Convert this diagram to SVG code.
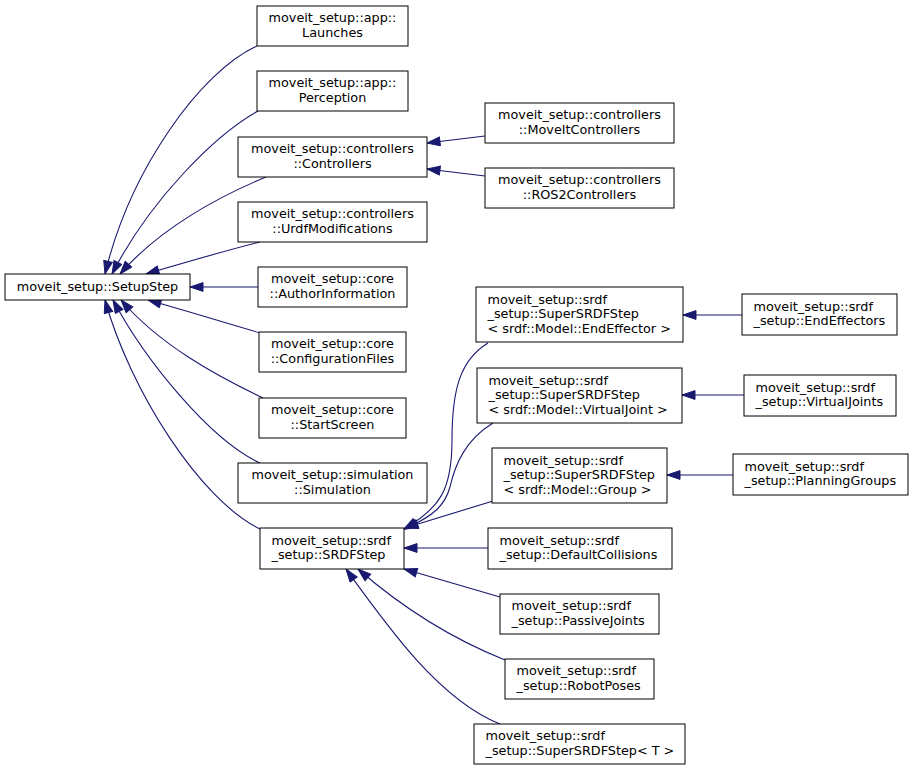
<svg xmlns="http://www.w3.org/2000/svg" width="913" height="771" viewBox="0 0 913 771">
<style>
.box{fill:#ffffff;stroke:#000000;stroke-width:1}
.t{font-family:"DejaVu Sans",sans-serif;font-size:12.8px;fill:#000000}
.c{text-anchor:middle}
.l{text-anchor:start}
.e{fill:none;stroke:#191970;stroke-width:1.1}
</style>
<defs>
<marker id="arr" markerUnits="userSpaceOnUse" markerWidth="16" markerHeight="12" refX="14" refY="5" orient="auto">
<path d="M1,0.6 L14,5 L1,9.4 z" fill="#191970" stroke="#191970" stroke-width="1"/>
</marker>
</defs>
<rect x="0" y="0" width="913" height="771" fill="#ffffff"/>
<g id="edges">
<path class="e" marker-end="url(#arr)" d="M257,46 C200,72 130,170 105,274"/>
<path class="e" marker-end="url(#arr)" d="M258,111 C215,135 150,200 112,274"/>
<path class="e" marker-end="url(#arr)" d="M266,177 C220,196 160,228 120,274"/>
<path class="e" marker-end="url(#arr)" d="M260,242 C220,252 180,264 146,274"/>
<path class="e" marker-end="url(#arr)" d="M258,287 L190,287"/>
<path class="e" marker-end="url(#arr)" d="M260,333 C230,324 180,309 148,300"/>
<path class="e" marker-end="url(#arr)" d="M263,398 C215,375 160,345 121,300"/>
<path class="e" marker-end="url(#arr)" d="M260,463 C210,440 145,360 113,300"/>
<path class="e" marker-end="url(#arr)" d="M260,529 C200,500 130,390 105,300"/>
<path class="e" marker-end="url(#arr)" d="M485,136 L427,143"/>
<path class="e" marker-end="url(#arr)" d="M485,176 L427,169"/>
<path class="e" marker-end="url(#arr)" d="M488,343 C460,360 452,390 452,440 C452,490 440,508 404,529"/>
<path class="e" marker-end="url(#arr)" d="M493,423 C465,440 455,465 450,487 C445,505 435,515 405,529"/>
<path class="e" marker-end="url(#arr)" d="M493,501 L405,528"/>
<path class="e" marker-end="url(#arr)" d="M488,548 L404,548"/>
<path class="e" marker-end="url(#arr)" d="M500,597 L404,569"/>
<path class="e" marker-end="url(#arr)" d="M505,660 C455,640 405,610 358,569"/>
<path class="e" marker-end="url(#arr)" d="M500,724 C440,700 390,630 346,569"/>
<path class="e" marker-end="url(#arr)" d="M742,315 L683,315"/>
<path class="e" marker-end="url(#arr)" d="M744,395 L682,395"/>
<path class="e" marker-end="url(#arr)" d="M733,475 L667,475"/>
</g>
<g id="n_setupstep"><rect class="box" x="5" y="274" width="185" height="26"/><text class="t c" x="97.5" y="290.5">moveit_setup::SetupStep</text></g>
<g id="n_launches"><rect class="box" x="257" y="6" width="151" height="40"/><text class="t c" x="332.5" y="22.3">moveit_setup::app::</text><text class="t c" x="332.5" y="36.8">Launches</text></g>
<g id="n_perception"><rect class="box" x="257" y="71" width="151" height="40"/><text class="t c" x="332.5" y="87.3">moveit_setup::app::</text><text class="t c" x="332.5" y="101.8">Perception</text></g>
<g id="n_controllers"><rect class="box" x="238" y="137" width="189" height="40"/><text class="t c" x="332.5" y="153.3">moveit_setup::controllers</text><text class="t c" x="332.5" y="167.8">::Controllers</text></g>
<g id="n_urdf"><rect class="box" x="238" y="202" width="189" height="40"/><text class="t c" x="332.5" y="218.3">moveit_setup::controllers</text><text class="t c" x="332.5" y="232.8">::UrdfModifications</text></g>
<g id="n_author"><rect class="box" x="258" y="267" width="149" height="40"/><text class="t c" x="332.5" y="283.3">moveit_setup::core</text><text class="t c" x="332.5" y="297.8">::AuthorInformation</text></g>
<g id="n_config"><rect class="box" x="259" y="332" width="147" height="40"/><text class="t c" x="332.5" y="348.3">moveit_setup::core</text><text class="t c" x="332.5" y="362.8">::ConfigurationFiles</text></g>
<g id="n_start"><rect class="box" x="259" y="398" width="147" height="40"/><text class="t c" x="332.5" y="414.3">moveit_setup::core</text><text class="t c" x="332.5" y="428.8">::StartScreen</text></g>
<g id="n_sim"><rect class="box" x="238" y="463" width="189" height="40"/><text class="t c" x="332.5" y="479.3">moveit_setup::simulation</text><text class="t c" x="332.5" y="493.8">::Simulation</text></g>
<g id="n_srdfstep"><rect class="box" x="260" y="528" width="144" height="41"/><text class="t l" x="271.5" y="544.8">moveit_setup::srdf</text><text class="t l" x="271.5" y="559.3">_setup::SRDFStep</text></g>
<g id="n_moveitctrl"><rect class="box" x="485" y="103" width="189" height="40"/><text class="t c" x="579.5" y="119.3">moveit_setup::controllers</text><text class="t c" x="579.5" y="133.8">::MoveItControllers</text></g>
<g id="n_ros2"><rect class="box" x="485" y="168" width="189" height="40"/><text class="t c" x="579.5" y="184.3">moveit_setup::controllers</text><text class="t c" x="579.5" y="198.8">::ROS2Controllers</text></g>
<g id="n_super_ee"><rect class="box" x="476" y="287" width="207" height="55"/><text class="t l" x="487.5" y="303.5">moveit_setup::srdf</text><text class="t l" x="487.5" y="318">_setup::SuperSRDFStep</text><text class="t l" x="487.5" y="332.5">&lt; srdf::Model::EndEffector &gt;</text></g>
<g id="n_super_vj"><rect class="box" x="477" y="368" width="205" height="55"/><text class="t l" x="488.5" y="384.5">moveit_setup::srdf</text><text class="t l" x="488.5" y="399">_setup::SuperSRDFStep</text><text class="t l" x="488.5" y="413.5">&lt; srdf::Model::VirtualJoint &gt;</text></g>
<g id="n_super_grp"><rect class="box" x="492" y="448" width="175" height="55"/><text class="t l" x="503.5" y="464.5">moveit_setup::srdf</text><text class="t l" x="503.5" y="479">_setup::SuperSRDFStep</text><text class="t l" x="503.5" y="493.5">&lt; srdf::Model::Group &gt;</text></g>
<g id="n_defcoll"><rect class="box" x="488" y="528" width="184" height="41"/><text class="t l" x="499.5" y="544.8">moveit_setup::srdf</text><text class="t l" x="499.5" y="559.3">_setup::DefaultCollisions</text></g>
<g id="n_passive"><rect class="box" x="500" y="594" width="159" height="40"/><text class="t l" x="511.5" y="610.3">moveit_setup::srdf</text><text class="t l" x="511.5" y="624.8">_setup::PassiveJoints</text></g>
<g id="n_robotposes"><rect class="box" x="505" y="659" width="149" height="40"/><text class="t l" x="516.5" y="675.3">moveit_setup::srdf</text><text class="t l" x="516.5" y="689.8">_setup::RobotPoses</text></g>
<g id="n_super_t"><rect class="box" x="474" y="724" width="211" height="40"/><text class="t l" x="485.5" y="740.3">moveit_setup::srdf</text><text class="t l" x="485.5" y="754.8">_setup::SuperSRDFStep&lt; T &gt;</text></g>
<g id="n_endeff"><rect class="box" x="742" y="294" width="155" height="41"/><text class="t l" x="753.5" y="310.8">moveit_setup::srdf</text><text class="t l" x="753.5" y="325.3">_setup::EndEffectors</text></g>
<g id="n_vjoints"><rect class="box" x="744" y="375" width="152" height="41"/><text class="t l" x="755.5" y="391.8">moveit_setup::srdf</text><text class="t l" x="755.5" y="406.3">_setup::VirtualJoints</text></g>
<g id="n_pgroups"><rect class="box" x="733" y="454" width="175" height="41"/><text class="t l" x="744.5" y="470.8">moveit_setup::srdf</text><text class="t l" x="744.5" y="485.3">_setup::PlanningGroups</text></g>
</svg>
